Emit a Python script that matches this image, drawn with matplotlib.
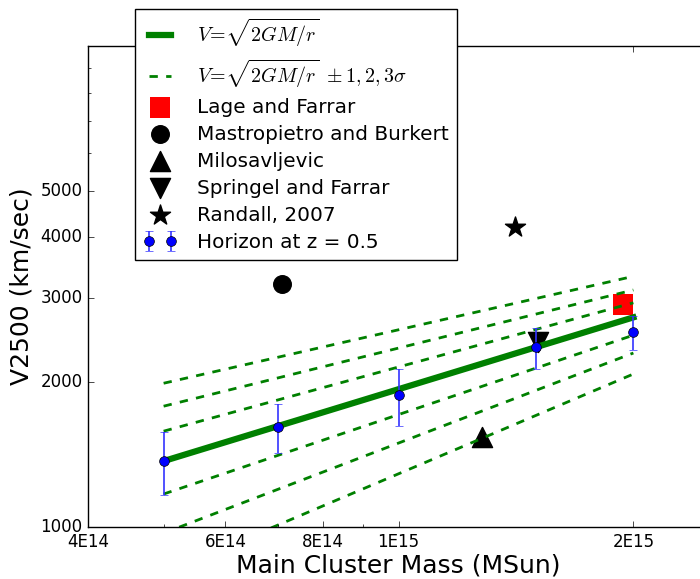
import matplotlib
matplotlib.use("Agg")
import matplotlib.pyplot as plt
from matplotlib.ticker import NullFormatter

plt.style.use("classic")

# Horizon simulation points (z = 0.5)
horizonMass = [5E14, 7E14, 1E15, 1.5E15, 2E15]
horizonV = [1371, 1612, 1879, 2363, 2539]
horizonErr = [205, 190, 255, 230, 205]

# escape velocity line and +-1,2,3 sigma lines, at the two end masses
lineMass = [5E14, 2E15]
lineV = [1371, 2728]
sigmaLines = [
    [1990, 3320],
    [1783, 3110],
    [1582, 2925],
    [1171, 2505],
    [971, 2300],
    [800, 2080],
]

# published estimates
lageMass, lageV = [1.94E15], [2900]
mastroMass, mastroV = [7.1E14], [3200]
milosMass, milosV = [1.28E15], [1540]
springelMass, springelV = [1.51E15], [2420]
randallMass, randallV = [1.41E15], [4200]

xTicks = [4E14, 6E14, 8E14, 1E15, 2E15]
xTickLabels = ["4E14", "6E14", "8E14", "1E15", "2E15"]
yTicks = [1000, 2000, 3000, 4000, 5000]
yTickLabels = ["1000", "2000", "3000", "4000", "5000"]

fig = plt.figure(figsize=(7, 5.79), dpi=100, facecolor="white")
# axes runs a little past the right edge of the figure, like the original crop
ax = fig.add_axes([88/700., 1-527/579., 621/700., 481/579.])
ax.set_xscale("log")
ax.set_yscale("log")

# published values first so the lines are drawn over them
hLage = ax.scatter(lageMass, lageV, marker="s", s=220, c="red", edgecolors="none",
                   label="Lage and Farrar")
hMastro = ax.scatter(mastroMass, mastroV, marker="o", s=160, c="black",
                     label="Mastropietro and Burkert")
hMilos = ax.scatter(milosMass, milosV, marker="^", s=210, c="black",
                    label="Milosavljevic")
hSpringel = ax.scatter(springelMass, springelV, marker="v", s=210, c="black",
                       label="Springel and Farrar")
hRandall = ax.scatter(randallMass, randallV, marker="*", s=230, c="black",
                      label="Randall, 2007")

hLine, = ax.plot(lineMass, lineV, color="g", lw=4.5,
                 label=r"$V\!=\!\sqrt{2GM/r}$")
hSigma = None
for vals in sigmaLines:
    l, = ax.plot(lineMass, vals, color="g", lw=2, ls="--")
    if hSigma is None:
        hSigma = l
hSigma.set_label(r"$V\!=\!\sqrt{2GM/r}\ \pm1,2,3\sigma$")

hHorizon = ax.errorbar(horizonMass, horizonV, yerr=horizonErr, fmt="o",
                       color="blue", ecolor="#3333ff", mec="black", ms=7,
                       capsize=3, elinewidth=1.2, label="Horizon at z = 0.5")

ax.set_xlim(4E14, 2.5E15)
ax.set_ylim(1000, 10000)
ax.set_xticks(xTicks)
ax.set_xticklabels(xTickLabels)
ax.set_yticks(yTicks)
ax.set_yticklabels(yTickLabels)
ax.xaxis.set_minor_formatter(NullFormatter())
ax.yaxis.set_minor_formatter(NullFormatter())
ax.tick_params(labelsize=12)

ax.set_xlabel("Main Cluster Mass (MSun)", fontsize=18, labelpad=2)
ax.set_ylabel("V2500 (km/sec)", fontsize=18)

handles = [hLine, hSigma, hLage, hMastro, hMilos, hSpringel, hRandall, hHorizon]
leg = ax.legend(handles=handles, labels=[h.get_label() for h in handles],
                loc="upper left", bbox_to_anchor=(135/700., 1-9/579.),
                bbox_transform=fig.transFigure, borderaxespad=0,
                numpoints=2, scatterpoints=1, fontsize=14.4,
                labelspacing=0.4, handlelength=1.7, handletextpad=1.0,
                fancybox=False)
leg.get_frame().set_edgecolor("black")

fig.savefig("out.png", dpi=100, facecolor="white")
